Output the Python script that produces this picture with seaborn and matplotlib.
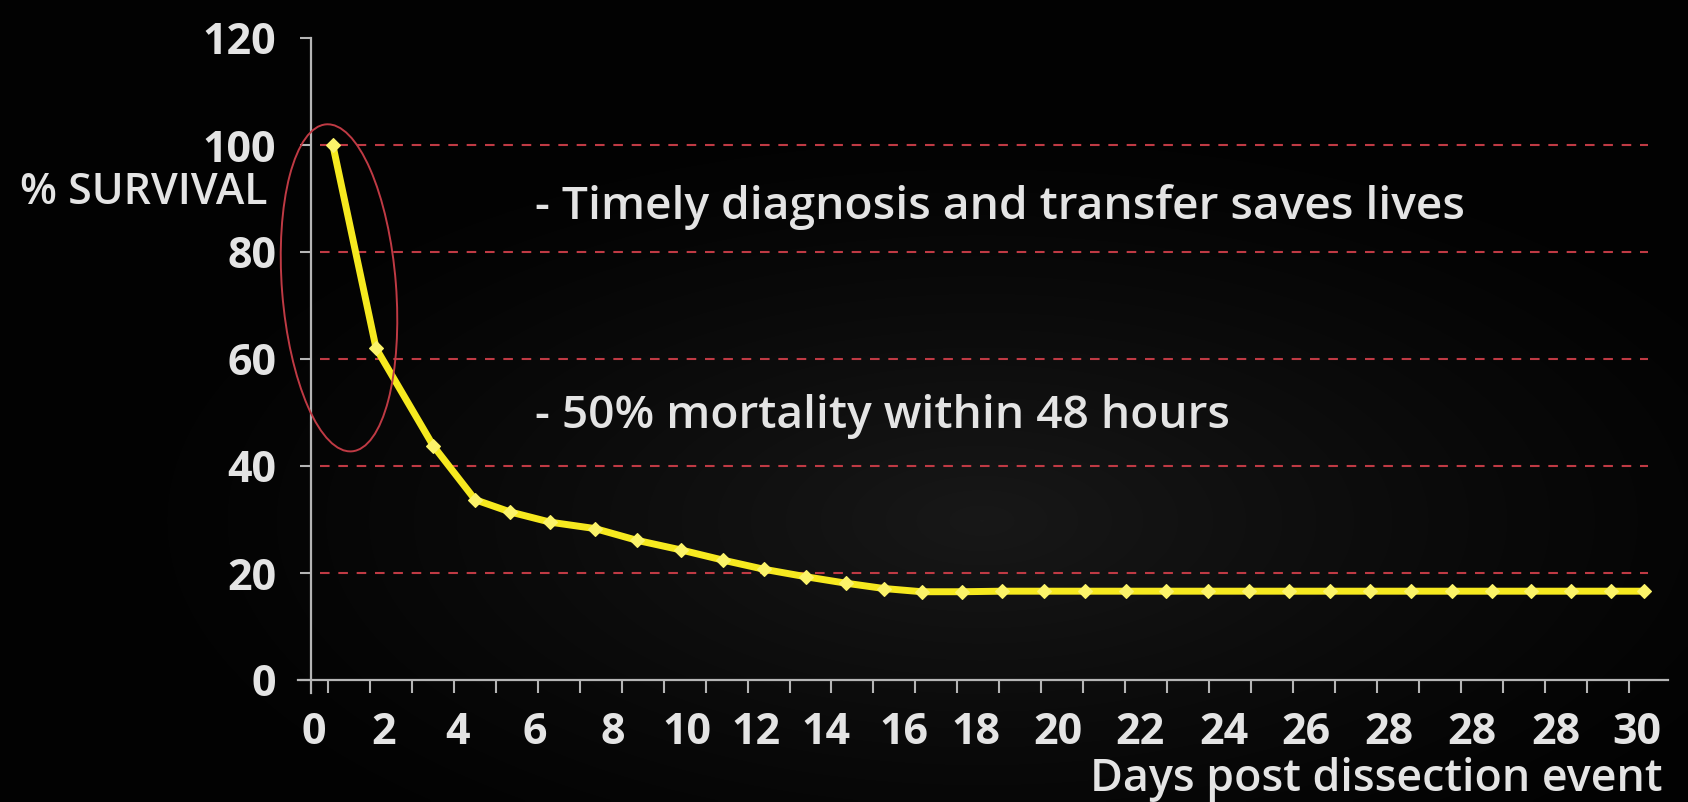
import numpy as np
import pandas as pd
import matplotlib
matplotlib.use("Agg")
import matplotlib.pyplot as plt
from matplotlib.patches import Ellipse
from matplotlib.transforms import IdentityTransform
import seaborn as sns

# ---------------- data ----------------
# x positions of the points on the category axis (one unit = one tick interval)
point_pos = [0.52, 1.55, 2.91, 3.91, 4.75, 5.70, 6.77, 7.77, 8.82, 9.82, 10.79,
             11.79, 12.74, 13.65, 14.55, 15.52, 16.47, 17.46, 18.44, 19.42,
             20.38, 21.37, 22.34, 23.30, 24.28, 25.24, 26.21, 27.19, 28.13,
             29.07, 30.01, 30.98, 31.75]
survival = [100, 62, 43.8, 33.7, 31.4, 29.5, 28.3, 26.1, 24.3, 22.4, 20.7,
            19.3, 18.1, 17.1, 16.5, 16.5, 16.6, 16.6, 16.6, 16.6, 16.6, 16.6,
            16.6, 16.6, 16.6, 16.6, 16.6, 16.6, 16.6, 16.6, 16.6, 16.6, 16.6]

x_tick_labels = ["0", "2", "4", "6", "8", "10", "12", "14", "16", "18", "20",
                 "22", "24", "26", "28", "28", "28", "30"]
y_ticks = [0, 20, 40, 60, 80, 100, 120]
grid_values = [20, 40, 60, 80, 100]

y_label = "% SURVIVAL"
x_label = "Days post dissection event"
notes = ["- Timely diagnosis and transfer saves lives",
         "- 50% mortality within 48 hours"]

# ---------------- layout / style ----------------
W, H, DPI = 1688, 802, 100
BG = "#050505"
FG = "#e4e4e4"
AXIS = "#b5b5b5"
RED = "#bf3a44"
YELLOW = "#f6e91f"

label_pos = [0.06, 1.73, 3.48, 5.33, 7.19, 8.96, 10.60, 12.26, 14.12, 15.84,
             17.79, 19.75, 21.75, 23.71, 25.68, 27.66, 29.65, 31.59]
minor_pos = np.arange(32) + 0.4

sns.set_theme(style="dark")
plt.rcParams["font.family"] = ["Open Sans", "DejaVu Sans"]
plt.rcParams["axes.facecolor"] = BG
plt.rcParams["figure.facecolor"] = BG

df = pd.DataFrame({"pos": point_pos, "survival": survival})

fig = plt.figure(figsize=(W / DPI, H / DPI), dpi=DPI)
fig.patch.set_facecolor(BG)

# subtle dark vignette background (lighter in the middle, black at the edges)
bg_ax = fig.add_axes([0, 0, 1, 1], zorder=-10)
gy, gx = np.mgrid[0:H:4, 0:W:4]
r = np.sqrt(((gx - 980) / 900.0) ** 2 + ((gy - 520) / 420.0) ** 2)
shade = np.clip(1 - r, 0, 1) ** 1.3
bg_ax.imshow(shade, cmap=matplotlib.colors.LinearSegmentedColormap.from_list(
    "bg", ["#020202", "#181818"]), vmin=0, vmax=1, aspect="auto",
    extent=[0, 1, 0, 1], interpolation="bilinear")
bg_ax.set_axis_off()

# axes placed in pixels: x from 298 to 1668, y data 0 at 680 px from top
x0, x1 = -0.31, 32.33
y0, y1 = -2.5, 120
left_px, right_px = 298, 1668
top_px, bottom_px = 38, 680 + 2.5 * 5.35
ax = fig.add_axes([left_px / W, (H - bottom_px) / H,
                   (right_px - left_px) / W, (bottom_px - top_px) / H])
ax.patch.set_alpha(0)
ax.set_xlim(x0, x1)
ax.set_ylim(y0, y1)

# dashed red gridlines
ax.hlines(grid_values, 0.21, 31.86, colors=RED, linewidth=1.5,
          linestyles=(0, (4.6, 4.2)), zorder=1)

# the survival curve
sns.lineplot(data=df, x="pos", y="survival", ax=ax, color=YELLOW,
             linewidth=5.0, marker="D", markersize=7,
             markeredgecolor="#fbf36a", markerfacecolor="#fbf36a",
             markeredgewidth=0.8, sort=False, zorder=3, legend=False)

# spines
for s in ["top", "right"]:
    ax.spines[s].set_visible(False)
ax.spines["left"].set_position(("data", 0))
ax.spines["bottom"].set_position(("data", 0))
ax.spines["left"].set_bounds(y0, 120)
ax.spines["left"].set_color(AXIS)
ax.spines["bottom"].set_color(AXIS)
ax.spines["left"].set_linewidth(1.6)
ax.spines["bottom"].set_linewidth(1.6)

# y ticks
ax.set_yticks(y_ticks)
ax.set_yticklabels([str(v) for v in y_ticks])
ax.tick_params(axis="y", which="major", direction="out", length=8, width=1.5,
               color=AXIS, pad=17, labelsize=31, labelcolor=FG, left=True)
for t in ax.get_yticklabels():
    t.set_fontweight("bold")

# x ticks: marks as minor ticks, labels as major ticks without marks
ax.set_xticks(minor_pos, minor=True)
ax.set_xticks(label_pos)
ax.set_xticklabels(x_tick_labels)
ax.tick_params(axis="x", which="minor", direction="out", length=9.5,
               width=1.5, color=AXIS, bottom=True)
ax.tick_params(axis="x", which="major", length=0, pad=22, labelsize=31,
               labelcolor=FG, bottom=True)
for t in ax.get_xticklabels():
    t.set_fontweight("bold")

ax.set_xlabel("")
ax.set_ylabel("")
ax.grid(False)

# axis titles and notes
fig.text(268 / W, (H - 204) / H, y_label, ha="right", va="baseline",
         fontsize=31, color=FG, fontweight="semibold")
fig.text(1663 / W, (H - 791) / H, x_label, ha="right", va="baseline",
         fontsize=32.2, color=FG, fontweight="semibold")
fig.text(535 / W, (H - 219) / H, notes[0], ha="left", va="baseline",
         fontsize=33.2, color=FG, fontweight="semibold")
fig.text(535 / W, (H - 428) / H, notes[1], ha="left", va="baseline",
         fontsize=33.2, color=FG, fontweight="semibold")

# red ellipse highlighting the first 48 hours
fig.canvas.draw()
cx, cy = ax.transData.transform((0.667, 73.3))
ell = Ellipse((cx, cy), 114, 328, angle=4.5, fill=False, edgecolor=RED,
              linewidth=1.4, transform=IdentityTransform(), zorder=4)
fig.add_artist(ell)

fig.savefig("out.png", dpi=DPI, facecolor=BG)
